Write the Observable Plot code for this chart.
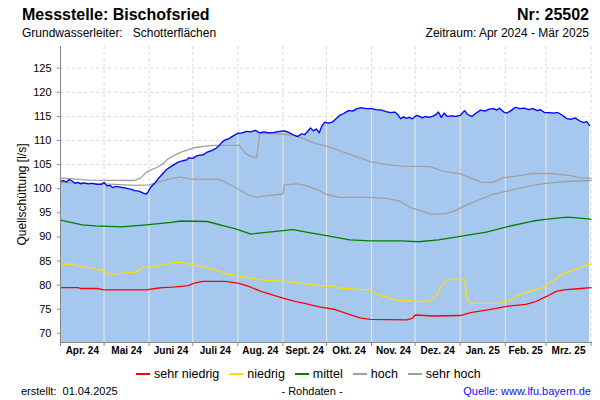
<!DOCTYPE html>
<html>
<head>
<meta charset="utf-8">
<script src="https://cdn.jsdelivr.net/npm/d3@7"></script>
<script src="https://cdn.jsdelivr.net/npm/@observablehq/plot@0.6"></script>
<style>
  body { margin: 0; background: #fff; font-family: "Liberation Sans", Arial, sans-serif; }
  #wrap { position: relative; width: 600px; height: 400px; overflow: hidden; }
  .t { position: absolute; line-height: 1; white-space: pre; color: #000; }
  #chart { position: absolute; left: 0; top: 40px; }
  #legend { position: absolute; left: 136px; top: 368px; display: flex; align-items: center; font-size: 12.5px; line-height: 1; color: #000; }
  .li { display: flex; align-items: center; margin-right: 10px; }
  .sw { width: 14px; height: 2px; margin-right: 4px; }
</style>
</head>
<body>
<div id="wrap">
  <div class="t" style="left:22px; top:7px; font-size:16px; font-weight:bold;">Messstelle: Bischofsried</div>
  <div class="t" style="right:11px; top:7px; font-size:16px; font-weight:bold;">Nr: 25502</div>
  <div class="t" style="left:22px; top:27px; font-size:12px;">Grundwasserleiter:   Schotterflächen</div>
  <div class="t" style="right:11px; top:27px; font-size:12px;">Zeitraum: Apr 2024 - Mär 2025</div>
  <div id="chart"></div>
  <div id="legend"></div>
  <div class="t" style="left:21px; top:386px; font-size:11px;">erstellt:  01.04.2025</div>
  <div class="t" style="left:312px; top:386px; font-size:11px; transform:translateX(-50%);">- Rohdaten -</div>
  <div class="t" style="right:9px; top:386px; font-size:11px; color:#1010ff;">Quelle: www.lfu.bayern.de</div>
</div>
<script>
// ---- Data ----
const monthStarts = ["2024-04-01","2024-05-01","2024-06-01","2024-07-01","2024-08-01","2024-09-01","2024-10-01","2024-11-01","2024-12-01","2025-01-01","2025-02-01","2025-03-01","2025-04-01"];
const monthLabels = ["Apr. 24","Mai 24","Juni 24","Juli 24","Aug. 24","Sept. 24","Okt. 24","Nov. 24","Dez. 24","Jan. 25","Feb. 25","Mrz. 25"];
const yTicks = [70,75,80,85,90,95,100,105,110,115,120,125];

const messwerte = [
["2024-04-01",101.5],["2024-04-03",101.7],["2024-04-05",101.4],["2024-04-07",101.9],["2024-04-09",101.6],
["2024-04-11",101.1],["2024-04-13",101.3],["2024-04-15",101.0],["2024-04-17",101.2],["2024-04-20",101.0],
["2024-04-23",101.1],["2024-04-26",100.9],["2024-04-29",100.9],["2024-05-01",101.3],["2024-05-03",100.6],
["2024-05-05",100.7],["2024-05-07",100.2],["2024-05-09",100.5],["2024-05-11",100.4],["2024-05-13",100.3],
["2024-05-16",100.1],["2024-05-19",99.9],["2024-05-22",99.6],["2024-05-25",99.5],["2024-05-28",99.1],
["2024-05-30",98.9],["2024-05-31",99.2],["2024-06-02",100.3],["2024-06-05",101.2],["2024-06-07",102.0],
["2024-06-10",103.0],["2024-06-13",104.0],["2024-06-15",104.4],["2024-06-18",105.0],["2024-06-21",105.5],
["2024-06-24",105.8],["2024-06-27",106.0],["2024-06-28",106.4],["2024-07-01",106.3],["2024-07-03",106.7],
["2024-07-05",106.9],["2024-07-08",107.0],["2024-07-11",107.6],["2024-07-14",107.9],["2024-07-17",108.4],
["2024-07-19",108.9],["2024-07-21",109.6],["2024-07-23",110.1],["2024-07-26",110.4],["2024-07-28",110.8],
["2024-08-01",111.5],["2024-08-04",111.6],["2024-08-07",111.9],["2024-08-10",111.8],["2024-08-13",112.1],
["2024-08-16",111.6],["2024-08-19",111.8],["2024-08-22",111.6],["2024-08-26",111.7],["2024-08-30",111.9],
["2024-09-02",112.0],["2024-09-05",111.7],["2024-09-08",111.2],["2024-09-11",110.8],["2024-09-14",111.4],
["2024-09-16",111.2],["2024-09-18",111.9],["2024-09-20",112.6],["2024-09-22",112.0],["2024-09-24",112.4],
["2024-09-26",111.6],["2024-09-28",113.1],["2024-09-30",113.8],["2024-10-02",113.6],["2024-10-05",113.8],
["2024-10-08",114.6],["2024-10-10",115.2],["2024-10-13",115.6],["2024-10-16",116.2],["2024-10-19",116.1],
["2024-10-22",116.6],["2024-10-25",116.8],["2024-10-28",116.6],["2024-11-01",116.6],["2024-11-04",116.4],
["2024-11-08",116.3],["2024-11-11",116.0],["2024-11-14",115.8],["2024-11-17",115.9],["2024-11-19",115.4],
["2024-11-21",114.5],["2024-11-23",114.9],["2024-11-25",114.6],["2024-11-27",114.8],["2024-11-29",114.5],
["2024-12-02",115.2],["2024-12-04",115.0],["2024-12-06",114.7],["2024-12-08",115.0],["2024-12-10",114.8],
["2024-12-13",115.0],["2024-12-15",115.3],["2024-12-17",115.9],["2024-12-19",114.8],["2024-12-21",115.7],
["2024-12-23",115.0],["2024-12-26",115.1],["2024-12-29",115.0],["2025-01-01",115.2],["2025-01-04",116.2],
["2025-01-06",115.4],["2025-01-09",115.0],["2025-01-12",115.7],["2025-01-15",116.3],["2025-01-18",116.1],
["2025-01-21",116.5],["2025-01-24",116.6],["2025-01-26",116.3],["2025-01-28",116.7],["2025-01-31",115.9],
["2025-02-02",115.7],["2025-02-05",116.2],["2025-02-08",116.9],["2025-02-11",116.6],["2025-02-14",116.7],
["2025-02-17",116.4],["2025-02-20",116.6],["2025-02-23",116.2],["2025-02-25",116.4],["2025-02-28",115.8],
["2025-03-03",115.8],["2025-03-06",115.7],["2025-03-09",115.8],["2025-03-12",115.3],["2025-03-15",114.6],
["2025-03-18",114.4],["2025-03-21",114.7],["2025-03-24",114.1],["2025-03-27",113.7],["2025-03-29",113.9],
["2025-03-31",113.1]
];

const sehrHoch = [
["2024-04-01",102.2],["2024-04-08",102.1],["2024-04-20",101.8],["2024-05-22",101.7],["2024-05-26",102.2],
["2024-05-30",103.4],["2024-06-03",104.0],["2024-06-07",104.5],["2024-06-11",105.3],["2024-06-14",106.2],
["2024-06-18",106.9],["2024-06-23",107.6],["2024-07-02",108.5],["2024-07-14",109.0],["2024-08-02",109.0],
["2024-08-06",107.4],["2024-08-10",106.7],["2024-08-14",106.4],["2024-08-16",111.5],["2024-08-29",111.4],
["2024-09-10",111.0],["2024-09-16",110.3],["2024-09-23",109.4],["2024-09-29",109.0],["2024-10-04",108.5],
["2024-10-08",108.1],["2024-10-19",106.9],["2024-10-31",105.6],["2024-11-11",105.0],["2024-11-22",104.7],
["2024-12-11",104.6],["2024-12-21",103.6],["2025-01-01",103.1],["2025-01-12",101.8],["2025-01-16",101.3],
["2025-01-23",101.3],["2025-01-31",102.3],["2025-02-11",102.7],["2025-02-20",103.2],["2025-03-06",103.1],
["2025-03-18",102.7],["2025-03-25",102.2],["2025-04-01",102.2]
];

const hoch = [
["2024-04-01",101.3],["2024-05-01",101.0],["2024-05-22",100.7],["2024-06-01",100.8],["2024-06-07",101.3],
["2024-06-14",102.0],["2024-06-22",102.4],["2024-07-01",102.0],["2024-07-19",102.0],["2024-07-30",100.3],
["2024-08-08",98.8],["2024-08-14",98.2],["2024-08-23",98.6],["2024-09-01",98.9],["2024-09-02",100.8],
["2024-09-10",101.0],["2024-09-17",100.7],["2024-09-26",99.6],["2024-10-01",98.8],["2024-10-10",98.2],
["2024-10-31",98.2],["2024-11-11",98.0],["2024-11-20",97.5],["2024-11-27",96.2],["2024-12-04",95.5],
["2024-12-11",94.8],["2024-12-22",94.8],["2024-12-29",95.5],["2025-01-05",96.6],["2025-01-14",97.7],
["2025-01-23",98.8],["2025-02-02",99.5],["2025-02-11",100.1],["2025-02-20",100.7],["2025-03-01",101.1],
["2025-03-15",101.5],["2025-04-01",101.7]
];

const mittel = [
["2024-04-01",93.5],["2024-04-16",92.5],["2024-04-25",92.3],["2024-05-13",92.1],["2024-05-30",92.5],
["2024-06-16",93.0],["2024-06-23",93.3],["2024-07-11",93.2],["2024-07-25",92.1],["2024-07-30",91.7],
["2024-08-10",90.6],["2024-08-22",91.0],["2024-09-08",91.5],["2024-09-19",90.9],["2024-10-02",90.2],
["2024-10-17",89.4],["2024-10-31",89.2],["2024-11-22",89.2],["2024-12-03",89.0],["2024-12-17",89.4],
["2025-01-01",90.1],["2025-01-19",91.0],["2025-02-02",92.1],["2025-02-20",93.3],["2025-03-02",93.7],
["2025-03-16",94.1],["2025-04-01",93.7]
];

const niedrig = [
["2024-04-01",84.2],["2024-04-07",84.4],["2024-04-16",83.8],["2024-04-23",83.6],["2024-04-30",83.0],
["2024-05-05",82.3],["2024-05-11",82.4],["2024-05-23",82.7],["2024-05-28",83.7],["2024-06-05",83.8],
["2024-06-12",84.3],["2024-06-18",84.7],["2024-06-23",84.7],["2024-06-30",84.3],["2024-07-09",83.7],
["2024-07-16",83.2],["2024-07-25",82.3],["2024-08-03",81.8],["2024-08-17",81.1],["2024-09-05",80.7],
["2024-09-18",80.2],["2024-09-28",79.8],["2024-10-06",79.8],["2024-10-10",79.4],["2024-10-31",79.0],
["2024-11-07",77.8],["2024-11-19",76.9],["2024-12-04",76.6],["2024-12-11",76.8],["2024-12-16",77.8],
["2024-12-19",79.9],["2024-12-23",81.1],["2024-12-27",81.3],["2025-01-04",81.1],["2025-01-06",76.8],
["2025-01-09",76.2],["2025-01-28",76.2],["2025-02-04",76.9],["2025-02-09",77.8],["2025-02-18",78.7],
["2025-02-27",79.5],["2025-03-06",80.9],["2025-03-13",82.4],["2025-03-22",83.3],["2025-03-29",84.2],
["2025-04-01",84.3]
];

const sehrNiedrig = [
["2024-04-01",79.5],["2024-04-13",79.5],["2024-04-15",79.3],["2024-04-26",79.3],["2024-05-01",79.0],
["2024-05-30",79.0],["2024-06-05",79.3],["2024-06-10",79.5],["2024-06-17",79.6],["2024-06-28",79.9],
["2024-07-02",80.4],["2024-07-08",80.8],["2024-07-23",80.8],["2024-08-01",80.4],["2024-08-08",79.8],
["2024-08-17",78.7],["2024-09-01",77.3],["2024-09-10",76.6],["2024-09-16",76.2],["2024-09-26",75.5],
["2024-10-06",75.0],["2024-10-13",74.3],["2024-10-24",73.2],["2024-10-31",72.9],["2024-11-25",72.8],
["2024-11-29",73.1],["2024-12-01",73.8],["2024-12-13",73.6],["2025-01-01",73.7],["2025-01-08",74.3],
["2025-01-21",74.9],["2025-02-02",75.6],["2025-02-15",76.0],["2025-02-22",76.6],["2025-03-01",77.6],
["2025-03-08",78.7],["2025-03-13",79.0],["2025-03-25",79.3],["2025-04-01",79.5]
];

const legendNames = ["sehr niedrig", "niedrig", "mittel", "hoch", "sehr hoch"];
const legendColors = ["#ff0000", "#ffdd00", "#008000", "#a0a0a0", "#a0a0a0"];

// ---- Build ----
const toRows = arr => arr.map(([d, v]) => ({date: new Date(d), value: v}));
const blue = toRows(messwerte);
const ms = monthStarts.map(d => new Date(d));
const mids = ms.slice(0, -1).map((d, i) => new Date((+d + +ms[i + 1]) / 2));
const yMin = 68.1, yMax = 129.5;
const xDomain = [new Date("2024-04-01"), new Date("2025-04-02")];

const bis = d3.bisector(d => d.date).left;
function blueAt(date) {
  const i = bis(blue, date);
  if (i <= 0) return blue[0].value;
  if (i >= blue.length) return blue[blue.length - 1].value;
  const a = blue[i - 1], b = blue[i];
  const t = (date - a.date) / (b.date - a.date);
  return a.value + t * (b.value - a.value);
}
const innerMonths = ms.slice(1).filter(d => d <= blue[blue.length - 1].date);

const lineOpts = (color) => ({x: "date", y: "value", stroke: color, strokeWidth: 1.3});

const chart = Plot.plot({
  width: 600,
  height: 322,
  marginLeft: 60,
  marginRight: 8,
  marginTop: 6,
  marginBottom: 20,
  style: {fontFamily: "'Liberation Sans', Arial, sans-serif", fontSize: "11px", background: "transparent"},
  x: {type: "utc", domain: xDomain},
  y: {domain: [yMin, yMax]},
  marks: [
    Plot.ruleY(yTicks, {stroke: "#d8d8d8", strokeDasharray: "3,3"}),
    Plot.ruleX(ms.slice(1), {stroke: "#d8d8d8", strokeDasharray: "3,3"}),
    Plot.areaY(blue, {x: "date", y1: yMin, y2: "value", fill: "#a6c8ef"}),
    Plot.ruleX(innerMonths, {x: d => d, y1: yMin, y2: d => blueAt(d), stroke: "#e2e2e2", strokeWidth: 1.2}),
    Plot.line(toRows(sehrHoch), lineOpts(legendColors[4])),
    Plot.line(toRows(hoch), lineOpts(legendColors[3])),
    Plot.line(toRows(mittel), lineOpts(legendColors[2])),
    Plot.line(toRows(niedrig), lineOpts(legendColors[1])),
    Plot.line(toRows(sehrNiedrig), lineOpts(legendColors[0])),
    Plot.line(blue, {x: "date", y: "value", stroke: "#0000ff", strokeWidth: 1.3}),
    Plot.ruleX([xDomain[0]], {stroke: "#888"}),
    Plot.ruleY([yMin], {stroke: "#888"}),
    Plot.axisY(yTicks, {tickSize: 3, tickPadding: 6, stroke: "#888", fill: "#000", fontSize: 11, label: null}),
    Plot.axisX(ms, {tickSize: 4, stroke: "#888", tickFormat: () => "", label: null}),
    Plot.text(mids, {x: d => d, text: (d, i) => monthLabels[i], frameAnchor: "bottom", dy: 11, fontSize: 10, fontWeight: "bold", fill: "#000"}),
    Plot.text(["Quellschüttung [l/s]"], {frameAnchor: "left", textAnchor: "middle", dx: -38, rotate: -90, fontSize: 12, fill: "#000"})
  ]
});
document.getElementById("chart").appendChild(chart);

const legend = document.getElementById("legend");
legendNames.forEach((name, i) => {
  const li = document.createElement("div");
  li.className = "li";
  const sw = document.createElement("div");
  sw.className = "sw";
  sw.style.background = legendColors[i];
  const tx = document.createElement("span");
  tx.textContent = name;
  li.appendChild(sw); li.appendChild(tx);
  legend.appendChild(li);
});
</script>
</body>
</html>
